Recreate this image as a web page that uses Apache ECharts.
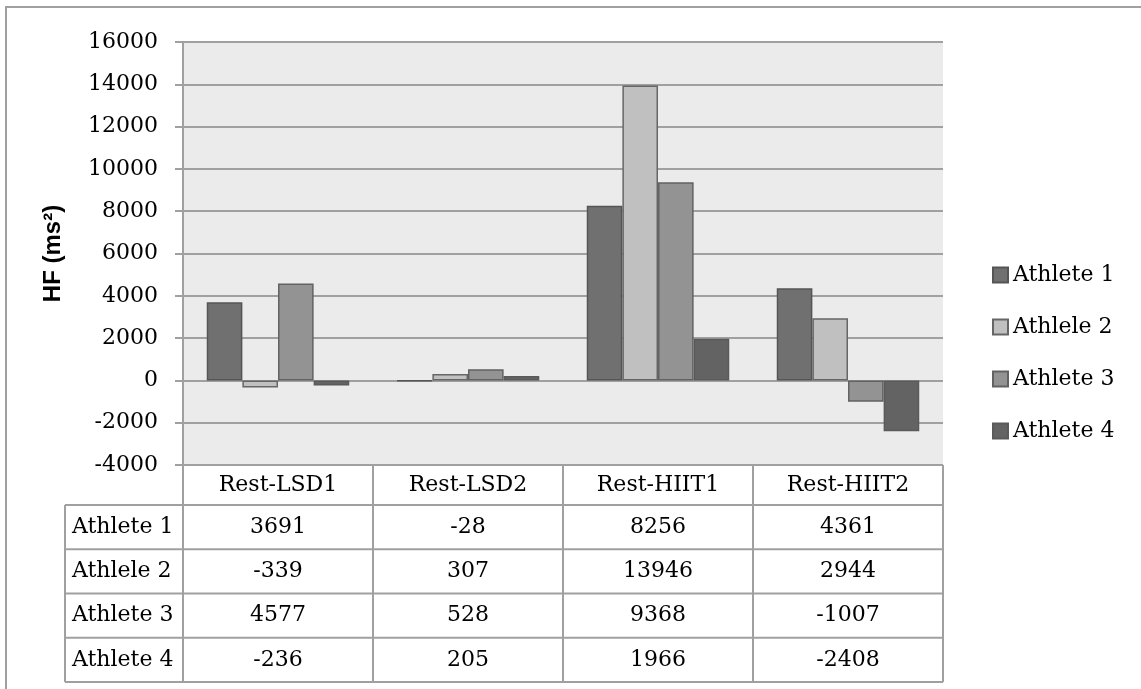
<!DOCTYPE html>
<html>
<head>
<meta charset="utf-8">
<script src="https://cdn.jsdelivr.net/npm/echarts@6/dist/echarts.min.js"></script>
<style>
  html, body { margin: 0; padding: 0; background: #ffffff; }
  #chart { width: 1141px; height: 689px; }
</style>
</head>
<body>
<div id="chart"></div>
<script>
// HF change per athlete for each rest/exercise comparison
const categories = ['Rest-LSD1', 'Rest-LSD2', 'Rest-HIIT1', 'Rest-HIIT2'];
const seriesNames = ['Athlete 1', 'Athlele 2', 'Athlete 3', 'Athlete 4'];
const athlete1 = [3691, -28, 8256, 4361];
const athlete2 = [-339, 307, 13946, 2944];
const athlete3 = [4577, 528, 9368, -1007];
const athlete4 = [-236, 205, 1966, -2408];
const yTicks = { min: -4000, max: 16000, interval: 2000 };

const seriesValues = [athlete1, athlete2, athlete3, athlete4];
const fills = ['#707070', '#c0c0c0', '#939393', '#636363'];
const edges = ['#555555', '#666666', '#626262', '#5a5a5a'];

const SERIF = '"DejaVu Serif", "Liberation Serif", serif';
const FS = 22;
const LINE = '#a0a0a0';
const grid = { left: 183, top: 42, width: 760, height: 423 };

const chart = echarts.init(document.getElementById('chart'), null, { renderer: 'canvas' });

const option = {
  backgroundColor: '#ffffff',
  animation: false,
  grid: {
    left: grid.left, top: grid.top, width: grid.width, height: grid.height,
    show: true, backgroundColor: '#ebebeb', borderWidth: 0
  },
  legend: {
    orient: 'vertical',
    left: 992,
    top: 264,
    padding: 0,
    itemWidth: 15,
    itemHeight: 15,
    itemGap: 30,
    icon: 'rect',
    textStyle: { fontFamily: SERIF, fontSize: FS, color: '#000' },
    data: seriesNames
  },
  xAxis: {
    type: 'category',
    data: categories,
    axisLine: { show: false },
    axisTick: { show: false },
    axisLabel: { show: false },
    splitLine: { show: false }
  },
  yAxis: {
    type: 'value',
    min: yTicks.min,
    max: yTicks.max,
    interval: yTicks.interval,
    name: 'HF (ms²)',
    nameLocation: 'middle',
    nameRotate: 90,
    nameGap: 118,
    nameTextStyle: { fontFamily: '"Liberation Sans", Arial, sans-serif', fontWeight: 'bold', fontSize: 24, color: '#000' },
    axisLine: { show: true, lineStyle: { color: LINE, width: 2 } },
    axisTick: { show: true, length: 8, lineStyle: { color: LINE, width: 2 } },
    axisLabel: { fontFamily: SERIF, fontSize: FS, color: '#000', margin: 25, formatter: v => String(v) },
    splitLine: { show: true, lineStyle: { color: LINE, width: 2 } }
  },
  series: seriesValues.map((vals, i) => ({
    name: seriesNames[i],
    type: 'bar',
    data: vals,
    barGap: '0%',
    barCategoryGap: '25%',
    itemStyle: { color: fills[i], borderColor: edges[i], borderWidth: 1.5 }
  }))
};

chart.setOption(option);

// Data table under the plot, aligned to the category bands
function buildTable() {
  const els = [];
  const colW = grid.width / categories.length;
  const headTop = grid.top + grid.height;
  const headBot = headTop + 40;
  const rowH = 44.25;
  const labelLeft = 65;
  const right = grid.left + grid.width;
  const tableBot = headBot + rowH * seriesNames.length;
  const stroke = { stroke: LINE, lineWidth: 2 };

  // vertical dividers
  for (let c = 0; c <= categories.length; c++) {
    const x = grid.left + c * colW;
    els.push({ type: 'line', shape: { x1: x, y1: c === 0 ? grid.top : headTop, x2: x, y2: tableBot }, style: stroke, z: 10 });
  }
  els.push({ type: 'line', shape: { x1: labelLeft, y1: headBot, x2: labelLeft, y2: tableBot }, style: stroke, z: 10 });
  // horizontal rules
  for (let r = 0; r <= seriesNames.length; r++) {
    const y = headBot + r * rowH;
    els.push({ type: 'line', shape: { x1: labelLeft, y1: y, x2: right, y2: y }, style: stroke, z: 10 });
  }
  // header labels
  categories.forEach((cat) => {
    const cx = chart.convertToPixel({ xAxisIndex: 0 }, cat);
    els.push({ type: 'text', x: cx, y: (headTop + headBot) / 2,
      style: { text: cat, fontFamily: SERIF, fontSize: FS, fill: '#000', align: 'center', verticalAlign: 'middle' }, z: 11 });
  });
  // rows
  seriesNames.forEach((name, r) => {
    const cy = headBot + (r + 0.5) * rowH;
    els.push({ type: 'text', x: labelLeft + 7, y: cy,
      style: { text: name, fontFamily: SERIF, fontSize: FS, fill: '#000', align: 'left', verticalAlign: 'middle' }, z: 11 });
    seriesValues[r].forEach((v, c) => {
      const cx = chart.convertToPixel({ xAxisIndex: 0 }, categories[c]);
      els.push({ type: 'text', x: cx, y: cy,
        style: { text: String(v), fontFamily: SERIF, fontSize: FS, fill: '#000', align: 'center', verticalAlign: 'middle' }, z: 11 });
    });
  });
  // outer chart frame
  els.push({ type: 'rect', shape: { x: 6, y: 7, width: 1300, height: 900 },
    style: { fill: null, stroke: LINE, lineWidth: 2 }, z: 12 });
  return els;
}

chart.setOption({ graphic: buildTable() });
</script>
</body>
</html>
